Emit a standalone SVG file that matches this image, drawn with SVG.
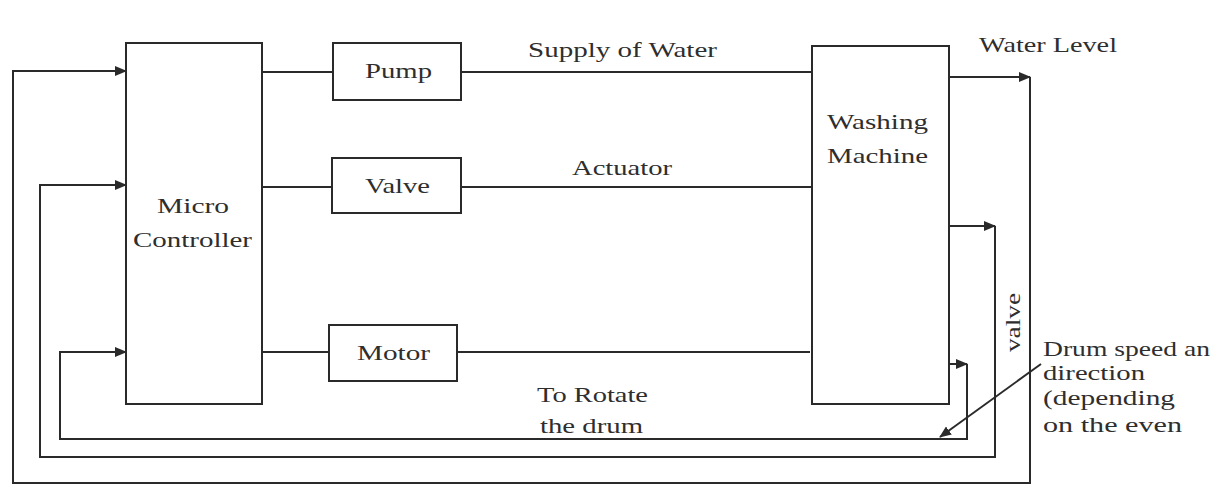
<svg xmlns="http://www.w3.org/2000/svg" width="1231" height="491" viewBox="0 0 1231 491">
<defs>
<marker id="arr" viewBox="0 0 12 10" refX="11" refY="5" markerWidth="12" markerHeight="10" markerUnits="userSpaceOnUse" orient="auto">
<path d="M0,0 L12,5 L0,10 Z" fill="#2a2a2a"/>
</marker>
<style>
.box{fill:#fff;stroke:#2a2a2a;stroke-width:2}
.ln{fill:none;stroke:#2a2a2a;stroke-width:2}
.t{font-family:"Liberation Serif","Times New Roman",serif;font-size:21px;fill:#2e2e2e}
</style>
</defs>
<rect width="1231" height="491" fill="#fff"/>
<g id="connectors">
<path class="ln" d="M262,72 H333"/>
<path class="ln" d="M461,72 H813"/>
<path class="ln" d="M262,187 H332"/>
<path class="ln" d="M461,187 H813"/>
<path class="ln" d="M262,352 H329"/>
<path class="ln" d="M457,352 H810"/>
<path class="ln" d="M950,77 H1030" marker-end="url(#arr)"/>
<path class="ln" d="M1030,77 V483 H13 V71 H126" marker-end="url(#arr)"/>
<path class="ln" d="M948,226 H995" marker-end="url(#arr)"/>
<path class="ln" d="M995,226 V457 H40 V185 H126" marker-end="url(#arr)"/>
<path class="ln" d="M948,364 H967" marker-end="url(#arr)"/>
<path class="ln" d="M967,364 V439 H60 V352 H126" marker-end="url(#arr)"/>
<path class="ln" d="M1041,364 L940,437" marker-end="url(#arr)"/>
</g>
<g id="microcontroller">
<rect class="box" x="126" y="43" width="136" height="361"/>
<text class="t" x="157" y="213" textLength="72" lengthAdjust="spacingAndGlyphs">Micro</text>
<text class="t" x="133" y="247" textLength="119" lengthAdjust="spacingAndGlyphs">Controller</text>
</g>
<g id="pump">
<rect class="box" x="333" y="43" width="128" height="57"/>
<text class="t" x="365" y="78" textLength="67" lengthAdjust="spacingAndGlyphs">Pump</text>
</g>
<g id="valve">
<rect class="box" x="332" y="158" width="129" height="55"/>
<text class="t" x="365" y="193" textLength="65" lengthAdjust="spacingAndGlyphs">Valve</text>
</g>
<g id="motor">
<rect class="box" x="329" y="325" width="128" height="56"/>
<text class="t" x="357" y="360" textLength="73" lengthAdjust="spacingAndGlyphs">Motor</text>
</g>
<g id="washingmachine">
<rect class="box" x="812" y="46" width="137" height="358"/>
<text class="t" x="827" y="129" textLength="101" lengthAdjust="spacingAndGlyphs">Washing</text>
<text class="t" x="827" y="163" textLength="101" lengthAdjust="spacingAndGlyphs">Machine</text>
</g>
<g id="labels">
<text class="t" x="528" y="57" textLength="189" lengthAdjust="spacingAndGlyphs">Supply of Water</text>
<text class="t" x="572" y="175" textLength="100" lengthAdjust="spacingAndGlyphs">Actuator</text>
<text class="t" x="979" y="52" textLength="138" lengthAdjust="spacingAndGlyphs">Water Level</text>
<text class="t" x="537" y="402" textLength="111" lengthAdjust="spacingAndGlyphs">To Rotate</text>
<text class="t" x="540" y="433" textLength="103" lengthAdjust="spacingAndGlyphs">the drum</text>
<text class="t" transform="translate(1020,352) rotate(-90)" x="0" y="0" textLength="59" lengthAdjust="spacingAndGlyphs">valve</text>
<text class="t" x="1043" y="356" textLength="167" lengthAdjust="spacingAndGlyphs">Drum speed an</text>
<text class="t" x="1043" y="380" textLength="102" lengthAdjust="spacingAndGlyphs">direction</text>
<text class="t" x="1043" y="405" textLength="132" lengthAdjust="spacingAndGlyphs">(depending</text>
<text class="t" x="1043" y="432" textLength="139" lengthAdjust="spacingAndGlyphs">on the even</text>
</g>
</svg>
